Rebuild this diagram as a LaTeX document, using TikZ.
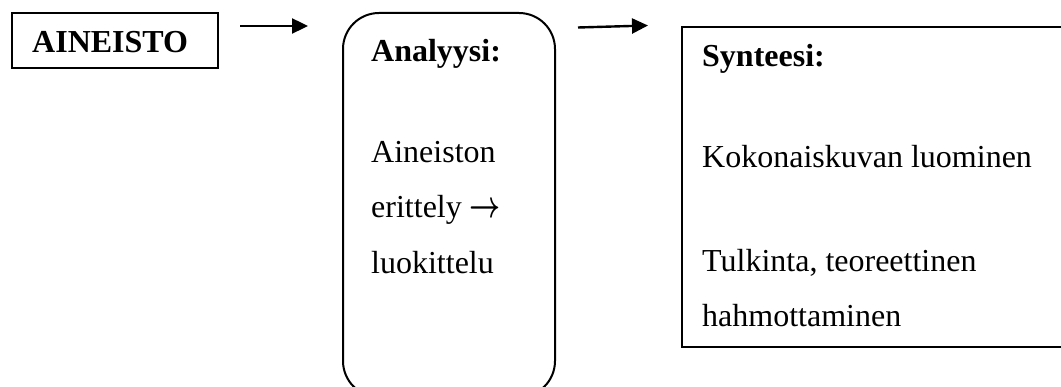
\documentclass[tikz,border=0pt]{standalone}
\usepackage{amsmath}
\usepackage{fontspec}
\setmainfont{Liberation Serif}
\usetikzlibrary{arrows.meta}

% inline arrow glyph, set at 10pt and stretched to the text size
\newcommand{\bigarrowglyph}{\scalebox{2.7}[3.8]{\fontsize{10}{12}\selectfont$\boldsymbol{\rightarrow}$}}

\begin{document}
\begin{tikzpicture}[x=1pt, y=-1pt,
  box/.style={draw, line width=2pt, inner sep=0pt, anchor=north west},
  txt/.style={anchor=base west, inner sep=0pt, font=\fontsize{32}{38}\selectfont},
  head/.style={txt, font=\fontsize{32}{38}\selectfont\bfseries},
  conn/.style={line width=2.4pt, -{Triangle[length=16pt, width=15pt]}}]
\clip (0,0) rectangle (1061,387);

% the three stages
\node[box, line width=1.8pt, minimum width=206pt, minimum height=55pt] (src) at (11,12) {};
\node[box, rounded corners=36pt, minimum width=212pt, minimum height=384pt] (ana) at (342,12) {};
\node[box, minimum width=420pt, minimum height=320pt] (syn) at (681,26) {};

% source
\node[head] (srcT) at (32,53) {AINEISTO};

% analysis
\node[head] (anaT) at (371,62) {Analyysi:};
\node[txt] (ana1) at (371,163) {Aineiston};
\node[txt] (ana2) at (371,218) {erittely \bigarrowglyph};
\node[txt] (ana3) at (371,274) {luokittelu};

% synthesis
\node[head] (synT) at (702,67) {Synteesi:};
\node[txt] (syn1) at (702,168) {Kokonaiskuvan luominen};
\node[txt] (syn2) at (702,272) {Tulkinta, teoreettinen};
\node[txt] (syn3) at (702,327) {hahmottaminen};

% connectors between the stages
\coordinate (a1s) at (240,26);
\coordinate (a1e) at (308,26);
\coordinate (a2s) at (578,27.5);
\coordinate (a2e) at (648,25.5);
\draw[conn] (a1s) -- (a1e);
\draw[conn] (a2s) -- (a2e);
\end{tikzpicture}
\end{document}
